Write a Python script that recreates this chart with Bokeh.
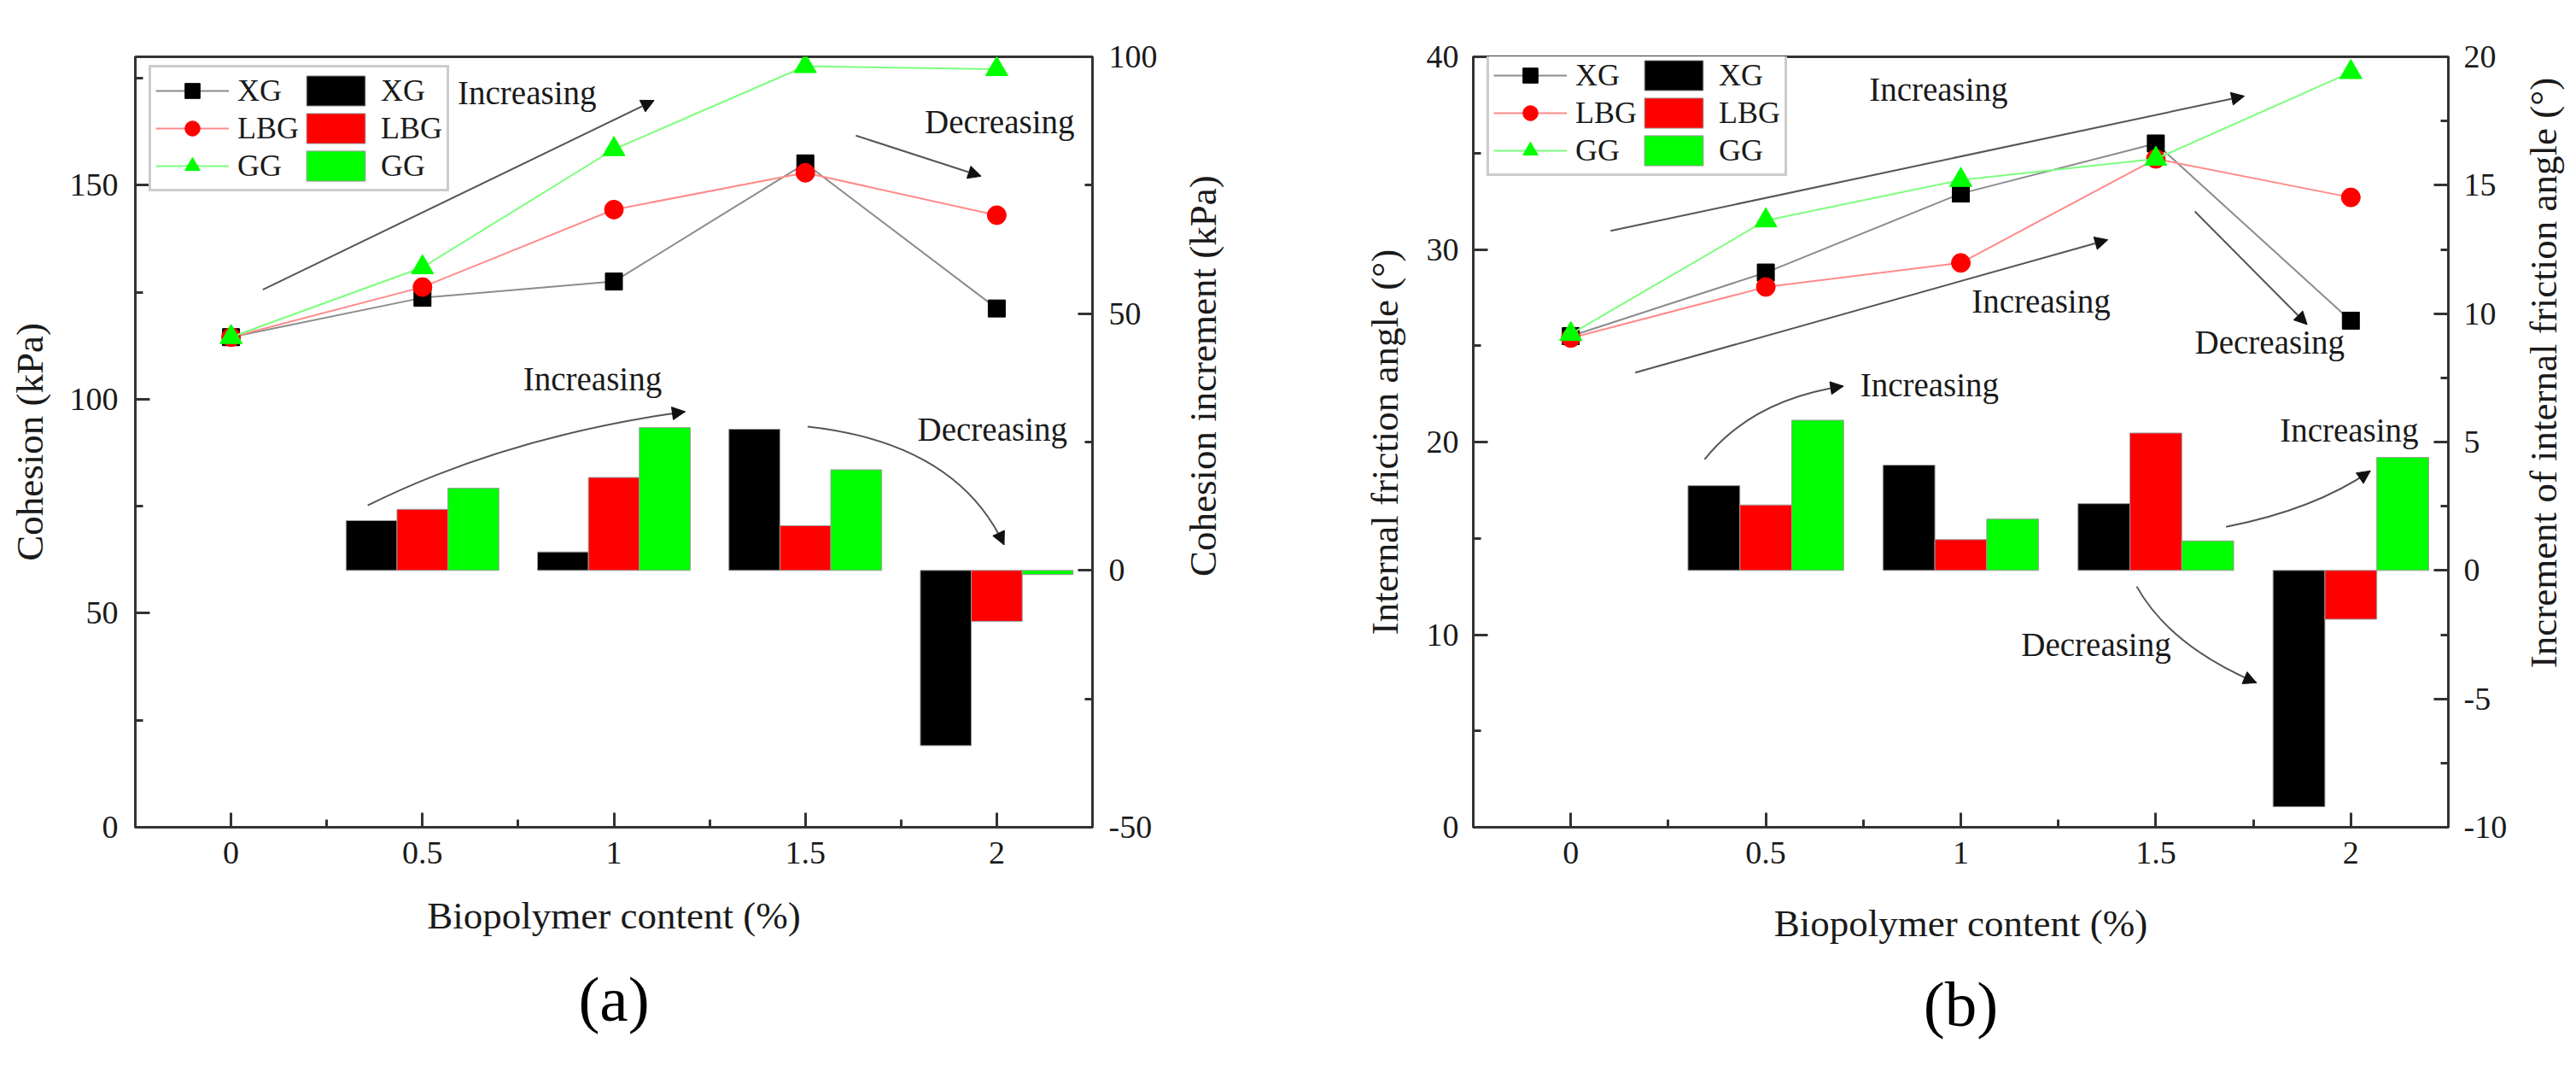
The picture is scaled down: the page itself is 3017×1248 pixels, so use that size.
import math
from bokeh.plotting import figure
from bokeh.models import (Range1d, LinearAxis, FixedTicker, NumeralTickFormatter,
                          Legend, LegendItem, Label, Arrow, NormalHead, Title)
from bokeh.layouts import row
from bokeh.transform import dodge
from bokeh.embed import file_html
from bokeh.resources import INLINE

FONT = "Liberation Serif"

# ---------------- data ----------------
contents = [0, 0.5, 1, 1.5, 2]
inc_contents = [0.5, 1, 1.5, 2]
series = ["XG", "LBG", "GG"]

# (a) cohesion (kPa)
coh_xg = [114.5, 123.7, 127.5, 155.1, 121.2]
coh_lbg = [114.5, 126.2, 144.3, 152.9, 143.0]
coh_gg = [114.5, 130.8, 158.4, 177.8, 177.1]
# (a) cohesion increment (kPa)
coh_inc_xg = [9.7, 3.6, 27.5, -34.1]
coh_inc_lbg = [11.9, 18.1, 8.7, -9.9]
coh_inc_gg = [16.0, 27.8, 19.6, -0.8]

# (b) internal friction angle (deg)
fr_xg = [25.5, 28.8, 32.9, 35.5, 26.3]
fr_lbg = [25.4, 28.05, 29.3, 34.7, 32.7]
fr_gg = [25.6, 31.5, 33.6, 34.7, 39.2]
# (b) increment of internal friction angle (deg)
fr_inc_xg = [3.3, 4.1, 2.6, -9.2]
fr_inc_lbg = [2.55, 1.2, 5.35, -1.9]
fr_inc_gg = [5.85, 2.0, 1.15, 4.4]

x_ticks = [0, 0.5, 1, 1.5, 2]
x_minor = [0.25, 0.75, 1.25, 1.75]

# annotations: text (label, x, y) and arrows in left-axis data units
a_texts = [("Increasing", 0.592, 171.7), ("Decreasing", 1.812, 164.9),
           ("Increasing", 0.763, 104.7), ("Decreasing", 1.793, 92.9)]
a_arrows = [(0.083, 125.6, 1.105, 169.8), (1.632, 161.6, 1.959, 152.1)]
a_curves = [(0.357, 75.2, 0.72, 91.3, 1.186, 97.1),
            (1.506, 93.6, 1.895, 89.8, 2.019, 66.0)]

b_texts = [("Increasing", 0.765, 38.3), ("Increasing", 1.028, 27.3),
           ("Decreasing", 1.60, 25.2), ("Increasing", 0.742, 22.96),
           ("Increasing", 1.818, 20.6), ("Decreasing", 1.155, 9.5)]
b_arrows = [(0.102, 30.96, 1.727, 37.96), (0.165, 23.6, 1.377, 30.5),
            (1.60, 31.97, 1.888, 26.1)]
b_curves = [(0.343, 19.1, 0.466, 22.2, 0.699, 22.9),
            (1.68, 15.6, 1.907, 16.5, 2.05, 18.5),
            (1.451, 12.5, 1.536, 9.42, 1.758, 7.5)]

COLORS = ["#000000", "#ff0000", "#00ff00"]
LINE_COLORS = ["#8c8c8c", "#ff8a8a", "#7dff7d"]
MARKERS = ["square", "circle", "triangle"]
MSIZES = [20, 22, 26]
AXIS_C = "#333333"
TXT_C = "#1a1a1a"
TITLE_SIZE = "45px"
H = 1248


def style_axis(ax, ticks, minor, label, standoff, label_standoff):
    ax.ticker = FixedTicker(ticks=ticks, minor_ticks=minor)
    ax.axis_label = label
    ax.axis_label_text_font = FONT
    ax.axis_label_text_font_size = TITLE_SIZE
    ax.axis_label_text_font_style = "normal"
    ax.axis_label_text_color = TXT_C
    ax.axis_label_standoff = label_standoff
    ax.major_label_text_font = FONT
    ax.major_label_text_font_size = "38px"
    ax.major_label_text_color = TXT_C
    ax.major_label_standoff = standoff
    ax.axis_line_color = AXIS_C
    ax.axis_line_width = 3
    ax.major_tick_line_color = AXIS_C
    ax.major_tick_line_width = 3
    ax.minor_tick_line_color = AXIS_C
    ax.minor_tick_line_width = 3
    ax.major_tick_in = 17
    ax.major_tick_out = 0
    ax.minor_tick_in = 9
    ax.minor_tick_out = 0


def make_panel(width, bl, br, bt, bb, yr, yr_inc, lines, incs, ylabel,
               yticks, yminor, y2ticks, y2minor, caption, legend_xy,
               texts, arrows, curves, lstand, lstand2, rstand, xstand2, cap_stand):
    p = figure(width=width, height=H, x_range=Range1d(-0.25, 2.25),
               y_range=Range1d(*yr), output_backend="svg", toolbar_location=None,
               title=None, min_border_left=bl, min_border_right=br,
               min_border_top=bt, min_border_bottom=bb)
    p.extra_y_ranges = {"inc": Range1d(*yr_inc)}
    p.xgrid.visible = False
    p.ygrid.visible = False
    p.outline_line_color = AXIS_C
    p.outline_line_width = 3
    p.background_fill_color = "white"
    p.border_fill_color = "white"

    style_axis(p.xaxis[0], x_ticks, x_minor, "Biopolymer content (%)", 17, xstand2)
    p.xaxis[0].formatter = NumeralTickFormatter(format="0.[0]")
    style_axis(p.yaxis[0], yticks, yminor, ylabel, lstand, lstand2)
    p.yaxis[0].formatter = NumeralTickFormatter(format="0")
    ax2 = LinearAxis(y_range_name="inc")
    style_axis(ax2, y2ticks, y2minor, None, rstand, 0)
    ax2.formatter = NumeralTickFormatter(format="0")
    p.add_layout(ax2, "right")

    offsets = [-0.133, 0.0, 0.133]
    bar_items = []
    for name, vals, c, off in zip(series, incs, COLORS, offsets):
        r = p.vbar(x=dodge("x", off, range=p.x_range), width=0.133, top="top", bottom=0,
                   source=dict(x=inc_contents, top=vals), y_range_name="inc",
                   fill_color=c, line_color="#9a9a9a", line_width=1)
        bar_items.append(LegendItem(label=name, renderers=[r]))

    line_items = []
    for name, vals, c, lc, m, ms in zip(series, lines, COLORS, LINE_COLORS, MARKERS, MSIZES):
        lr = p.line(contents, vals, line_color=lc, line_width=2)
        sr = p.scatter(contents, vals, marker=m, size=ms, fill_color=c, line_color=c)
        line_items.append(LegendItem(label=name, renderers=[lr, sr]))

    for t, x, y in texts:
        p.add_layout(Label(x=x, y=y, text=t, text_font=FONT, text_font_size="39px",
                           text_color=TXT_C, text_baseline="middle", text_align="left"))
    for x0, y0, x1, y1 in arrows:
        p.add_layout(Arrow(x_start=x0, y_start=y0, x_end=x1, y_end=y1,
                           line_color="#555555", line_width=2,
                           end=NormalHead(size=15, fill_color="#111111", line_color="#111111")))
    for x0, y0, cx, cy, x1, y1 in curves:
        p.quadratic(x0=[x0], y0=[y0], cx=[cx], cy=[cy], x1=[x1], y1=[y1],
                    line_color="#555555", line_width=2)
        p.add_layout(Arrow(x_start=cx, y_start=cy, x_end=x1, y_end=y1,
                           line_alpha=0.0, line_width=1,
                           end=NormalHead(size=15, fill_color="#111111", line_color="#111111")))

    leg = Legend(items=line_items + bar_items, ncols=2, location=legend_xy,
                 glyph_width=86, glyph_height=44, label_standoff=10, spacing=0,
                 padding=5, margin=0, label_text_font=FONT, label_text_font_size="36px",
                 label_text_color=TXT_C, border_line_color="#999999", border_line_width=3,
                 background_fill_color="white", background_fill_alpha=1.0)
    p.add_layout(leg)

    cap = Title(text=caption, align="center", text_font=FONT, text_font_size="75px",
                text_font_style="normal", text_color="#000000", standoff=cap_stand)
    p.add_layout(cap, "below")
    return p


def side_title(width, text, xc, yc):
    # narrow strip holding a right-hand axis title that reads bottom-to-top
    t = figure(width=width, height=H, x_range=Range1d(0, width), y_range=Range1d(0, H),
               output_backend="svg", toolbar_location=None, title=None,
               x_axis_type=None, y_axis_type=None, min_border_left=0,
               min_border_right=0, min_border_top=0, min_border_bottom=0)
    t.outline_line_color = None
    t.background_fill_color = "white"
    t.border_fill_color = "white"
    t.add_layout(Label(x=xc, y=H - yc, text=text, angle=math.pi / 2,
                       text_font=FONT, text_font_size=TITLE_SIZE, text_color=TXT_C,
                       text_align="center", text_baseline="middle"))
    return t


pa = make_panel(1372, 158, 93, 66, 280, (0, 180), (-50, 100),
                [coh_xg, coh_lbg, coh_gg], [coh_inc_xg, coh_inc_lbg, coh_inc_gg],
                "Cohesion (kPa)",
                [0, 50, 100, 150], [25, 75, 125, 175], [-50, 0, 50, 100], [-25, 25, 75],
                "(a)", (16, 744), a_texts, a_arrows, a_curves, 20, 19, 19, 33, 52)
ta = side_title(64, "Cohesion increment (kPa)", 36, 517)

pb = make_panel(1511, 289, 80, 52, 275, (0, 40), (-10, 20),
                [fr_xg, fr_lbg, fr_gg], [fr_inc_xg, fr_inc_lbg, fr_inc_gg],
                "Internal friction angle (°)",
                [0, 10, 20, 30, 40], [5, 15, 25, 35],
                [-10, -5, 0, 5, 10, 15, 20], [-7.5, -2.5, 2.5, 7.5, 12.5, 17.5],
                "(b)", (16, 762), b_texts, b_arrows, b_curves, 17, 21, 18, 42, 47)
tb = side_title(70, "Increment of internal friction angle (°)", 31, 512)

layout = row(pa, ta, pb, tb)
open("out.html", "w").write(file_html(layout, INLINE))
